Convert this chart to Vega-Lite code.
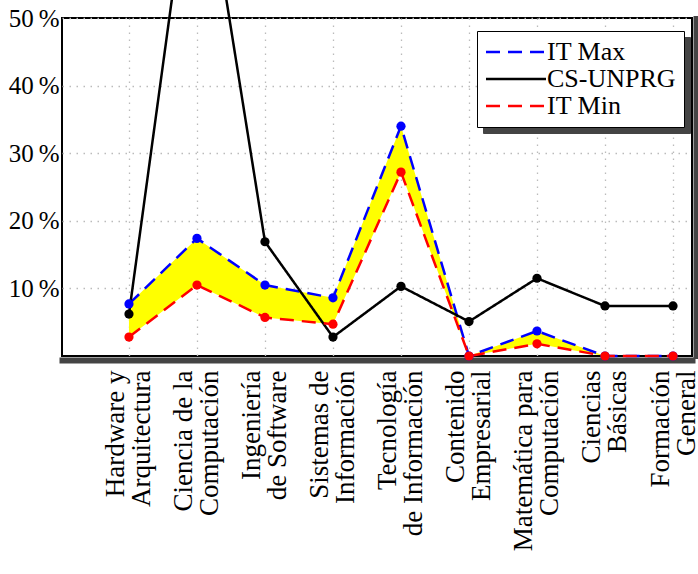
{
  "$schema": "https://vega.github.io/schema/vega-lite/v6.json",
  "width": 630,
  "height": 338,
  "autosize": {"type": "none"},
  "padding": {"left": 62, "top": 18, "right": 6, "bottom": 218},
  "background": "white",
  "config": {
    "view": {"stroke": "black", "strokeWidth": 2},
    "font": "Liberation Serif",
    "axis": {"labelFont": "Liberation Serif", "labelColor": "black", "title": null},
    "legend": {
      "labelFont": "Liberation Serif",
      "labelFontSize": 26,
      "labelColor": "black",
      "labelLimit": 400,
      "symbolSize": 400,
      "symbolStrokeWidth": 2.5,
      "symbolType": "M-1.2,0H4.8",
      "padding": 8,
      "rowPadding": 1,
      "labelOffset": 36
    }
  },
  "datasets": {
    "scores": [
      {"cat": "Hardware y\nArquitectura", "series": "IT Max", "value": 7.7},
      {"cat": "Hardware y\nArquitectura", "series": "CS-UNPRG", "value": 6.2},
      {"cat": "Hardware y\nArquitectura", "series": "IT Min", "value": 2.8},
      {"cat": "Ciencia de la\nComputación", "series": "IT Max", "value": 17.4},
      {"cat": "Ciencia de la\nComputación", "series": "CS-UNPRG", "value": 80},
      {"cat": "Ciencia de la\nComputación", "series": "IT Min", "value": 10.5},
      {"cat": "Ingeniería\nde Software", "series": "IT Max", "value": 10.5},
      {"cat": "Ingeniería\nde Software", "series": "CS-UNPRG", "value": 16.9},
      {"cat": "Ingeniería\nde Software", "series": "IT Min", "value": 5.7},
      {"cat": "Sistemas de\nInformación", "series": "IT Max", "value": 8.6},
      {"cat": "Sistemas de\nInformación", "series": "CS-UNPRG", "value": 2.8},
      {"cat": "Sistemas de\nInformación", "series": "IT Min", "value": 4.7},
      {"cat": "Tecnología\nde Información", "series": "IT Max", "value": 34.0},
      {"cat": "Tecnología\nde Información", "series": "CS-UNPRG", "value": 10.3},
      {"cat": "Tecnología\nde Información", "series": "IT Min", "value": 27.2},
      {"cat": "Contenido\nEmpresarial", "series": "IT Max", "value": 0},
      {"cat": "Contenido\nEmpresarial", "series": "CS-UNPRG", "value": 5.1},
      {"cat": "Contenido\nEmpresarial", "series": "IT Min", "value": 0},
      {"cat": "Matemática para\nComputación", "series": "IT Max", "value": 3.7},
      {"cat": "Matemática para\nComputación", "series": "CS-UNPRG", "value": 11.5},
      {"cat": "Matemática para\nComputación", "series": "IT Min", "value": 1.8},
      {"cat": "Ciencias\nBásicas", "series": "IT Max", "value": 0},
      {"cat": "Ciencias\nBásicas", "series": "CS-UNPRG", "value": 7.4},
      {"cat": "Ciencias\nBásicas", "series": "IT Min", "value": 0},
      {"cat": "Formación\nGeneral", "series": "IT Max", "value": 0},
      {"cat": "Formación\nGeneral", "series": "CS-UNPRG", "value": 7.4},
      {"cat": "Formación\nGeneral", "series": "IT Min", "value": 0}
    ]
  },
  "data": {"name": "scores"},
  "encoding": {
    "x": {
      "field": "cat", "type": "nominal",
      "sort": ["Hardware y\nArquitectura", "Ciencia de la\nComputación", "Ingeniería\nde Software", "Sistemas de\nInformación", "Tecnología\nde Información", "Contenido\nEmpresarial", "Matemática para\nComputación", "Ciencias\nBásicas", "Formación\nGeneral"],
      "scale": {
        "type": "point", "padding": 0.632, "align": 0.779,
        "domain": ["Hardware y\nArquitectura", "Ciencia de la\nComputación", "Ingeniería\nde Software", "Sistemas de\nInformación", "Tecnología\nde Información", "Contenido\nEmpresarial", "Matemática para\nComputación", "Ciencias\nBásicas", "Formación\nGeneral"]
      },
      "axis": {
        "title": null,
        "labelExpr": "split(datum.label, '\\n')",
        "labelAngle": -90,
        "labelAlign": "right",
        "labelBaseline": "middle",
        "labelFontSize": 27,
        "labelLineHeight": 26,
        "labelPadding": 10,
        "labelOffset": -13,
        "labelLimit": 400,
        "labelOverlap": false,
        "ticks": false,
        "domain": true,
        "domainColor": "#444444",
        "domainWidth": 6,
        "domainCap": "square",
        "offset": 4,
        "grid": true,
        "gridDash": [1.5, 5.5],
        "gridColor": "#bbbbbb",
        "gridWidth": 1.3
      }
    }
  },
  "layer": [
    {
      "transform": [{"pivot": "series", "value": "value", "groupby": ["cat"]}],
      "mark": {"type": "area", "color": "#ffff00", "opacity": 1},
      "encoding": {
        "y": {
          "field": "IT Max", "type": "quantitative",
          "scale": {"domain": [0, 50], "nice": false},
          "axis": {
            "orient": "left",
            "title": null,
            "values": [10, 20, 30, 40, 50],
            "labelExpr": "datum.value + '\u2009%'",
            "labelFontSize": 25,
            "labelPadding": 3,
            "ticks": false,
            "domain": false,
            "grid": true,
            "gridDash": [1.5, 5.5],
            "gridColor": "#bbbbbb",
            "gridWidth": 1.3
          }
        },
        "y2": {"field": "IT Min"}
      }
    },
    {
      "mark": {"type": "line", "strokeWidth": 2.5},
      "encoding": {
        "y": {"field": "value", "type": "quantitative", "scale": {"domain": [0, 50], "nice": false}, "axis": null},
        "color": {
          "field": "series", "type": "nominal",
          "scale": {"domain": ["IT Max", "CS-UNPRG", "IT Min"], "range": ["#0000ff", "#000000", "#ff0000"]},
          "legend": {
            "orient": "none",
            "legendX": 415,
            "legendY": 13,
            "title": null,
            "fillColor": "white",
            "strokeColor": "black",
            "symbolType": "M-1.2,0H4.8",
            "zindex": 2
          }
        },
        "strokeDash": {
          "field": "series", "type": "nominal",
          "scale": {"domain": ["IT Max", "CS-UNPRG", "IT Min"], "range": [[14, 8], [1, 0], [14, 8]]}
        }
      }
    },
    {
      "mark": {"type": "circle", "size": 85, "opacity": 1},
      "encoding": {
        "y": {
          "field": "value", "type": "quantitative",
          "scale": {"domain": [0, 50], "nice": false},
          "axis": {
            "orient": "right",
            "offset": 3.5,
            "domain": true,
            "domainColor": "#444444",
            "domainWidth": 5,
            "domainCap": "square",
            "labels": false,
            "ticks": false,
            "grid": false,
            "title": null
          }
        },
        "fill": {
          "field": "series", "type": "nominal",
          "scale": {"domain": ["IT Max", "CS-UNPRG", "IT Min"], "range": ["#0000ff", "#000000", "#ff0000"]},
          "legend": null
        }
      }
    },
    {
      "data": {"values": [{"series": "IT Max"}, {"series": "CS-UNPRG"}, {"series": "IT Min"}]},
      "mark": {"type": "point", "opacity": 0},
      "encoding": {
        "shape": {
          "field": "series", "type": "nominal",
          "scale": {"range": ["M-1.2,0H4.8"]},
          "legend": {
            "orient": "none",
            "legendX": 421,
            "legendY": 19,
            "title": null,
            "fillColor": "#444444",
            "strokeColor": "#444444",
            "labelOpacity": 0,
            "symbolOpacity": 0,
            "zindex": 1
          }
        }
      }
    }
  ],
  "resolve": {"axis": {"y": "independent"}}
}
